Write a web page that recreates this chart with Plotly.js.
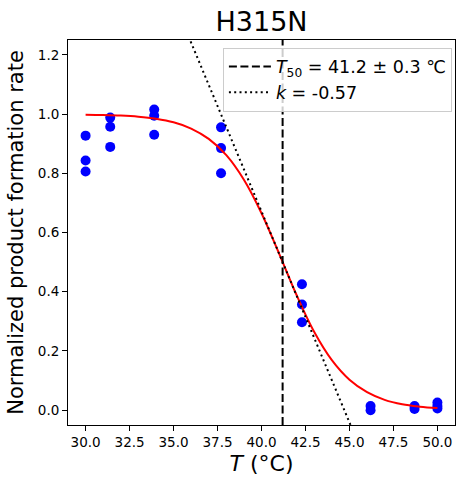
<!DOCTYPE html>
<html>
<head>
<meta charset="utf-8">
<script src="https://cdn.plot.ly/plotly-3.0.1.min.js"></script>
<style>html,body{margin:0;padding:0;background:#fff;}#chart{width:464px;height:487px;}</style>
</head>
<body>
<div id="chart"></div>
<script>
// Measured data points (temperature in °C, normalized rate)
const tempPoints = [30.0, 30.0, 30.0, 31.4, 31.4, 31.4, 33.9, 33.9, 33.9, 37.7, 37.7, 37.7, 42.3, 42.3, 42.3, 46.2, 46.2, 48.7, 48.7, 50.0, 50.0, 50.0];
const ratePoints = [0.927, 0.843, 0.806, 0.988, 0.957, 0.889, 1.015, 0.994, 0.930, 0.955, 0.885, 0.800, 0.425, 0.357, 0.297, 0.014, 0.000, 0.014, 0.004, 0.026, 0.014, 0.006];

// Fitted curve
const fitTemp = [30, 31, 32, 33, 34, 35, 36, 37, 38, 39, 40, 41, 42, 43, 44, 45, 46, 47, 48, 49, 50];
const fitRate = [0.998, 0.997, 0.995, 0.991, 0.984, 0.972, 0.951, 0.916, 0.861, 0.778, 0.665, 0.529, 0.388, 0.264, 0.169, 0.103, 0.061, 0.035, 0.020, 0.012, 0.007];

// T50 marker line and tangent line at T50
const t50Temp = [41.2, 41.2];
const t50Rate = [-0.05, 1.25];
const tangentTemp = [34.0, 46.0];
const tangentRate = [1.526, -0.184];

// Tick labels
const xTicks = [30.0, 32.5, 35.0, 37.5, 40.0, 42.5, 45.0, 47.5, 50.0];
const yTicks = [0.0, 0.2, 0.4, 0.6, 0.8, 1.0, 1.2];

const FONT = "DejaVu Sans, sans-serif";

const traces = [
  {x: tempPoints, y: ratePoints, type: 'scatter', mode: 'markers',
   marker: {color: '#0000ff', size: 10}, showlegend: false},
  {x: fitTemp, y: fitRate, type: 'scatter', mode: 'lines',
   line: {color: '#ff0000', width: 2, shape: 'spline'}, showlegend: false},
  {x: t50Temp, y: t50Rate, type: 'scatter', mode: 'lines',
   line: {color: '#000000', width: 2, dash: '8px,3.5px'},
   name: '<i>T</i><sub>50</sub> = 41.2 ± 0.3 ℃'},
  {x: tangentTemp, y: tangentRate, type: 'scatter', mode: 'lines',
   line: {color: '#000000', width: 2, dash: '2px,3.3px'},
   name: '<i>k</i> = -0.57'}
];

const axisCommon = {
  showgrid: false, zeroline: false, showline: true, linecolor: '#000', linewidth: 1,
  mirror: true, ticks: 'outside', ticklen: 5, tickcolor: '#000', tickwidth: 1,
  tickfont: {family: FONT, size: 13.5, color: '#000'}
};

const layout = {
  width: 464, height: 487,
  margin: {l: 68, r: 9, t: 40, b: 62},
  paper_bgcolor: '#fff', plot_bgcolor: '#fff',
  font: {family: FONT, color: '#000'},
  title: {text: 'H315N', font: {family: FONT, size: 27, color: '#000'},
          x: 0.5, xref: 'paper', xanchor: 'center', y: 0.955, yref: 'container', yanchor: 'middle'},
  xaxis: Object.assign({}, axisCommon, {
    range: [29, 51], tickvals: xTicks, ticktext: xTicks.map(v => v.toFixed(1)),
    title: {text: '<i>T</i> (°C)', font: {family: FONT, size: 22, color: '#000'}, standoff: 6}
  }),
  yaxis: Object.assign({}, axisCommon, {
    range: [-0.05, 1.25], tickvals: yTicks, ticktext: yTicks.map(v => v.toFixed(1)),
    title: {text: 'Normalized product formation rate', font: {family: FONT, size: 21, color: '#000'}, standoff: 8}
  }),
  legend: {x: 0.992, xanchor: 'right', y: 0.98, yanchor: 'top',
           bgcolor: 'rgba(255,255,255,0.8)', bordercolor: '#cccccc', borderwidth: 1,
           itemwidth: 42,
           font: {family: FONT, size: 17.5, color: '#000'}, tracegroupgap: 0}
};

Plotly.newPlot('chart', traces, layout, {displayModeBar: false, staticPlot: true});
</script>
</body>
</html>
